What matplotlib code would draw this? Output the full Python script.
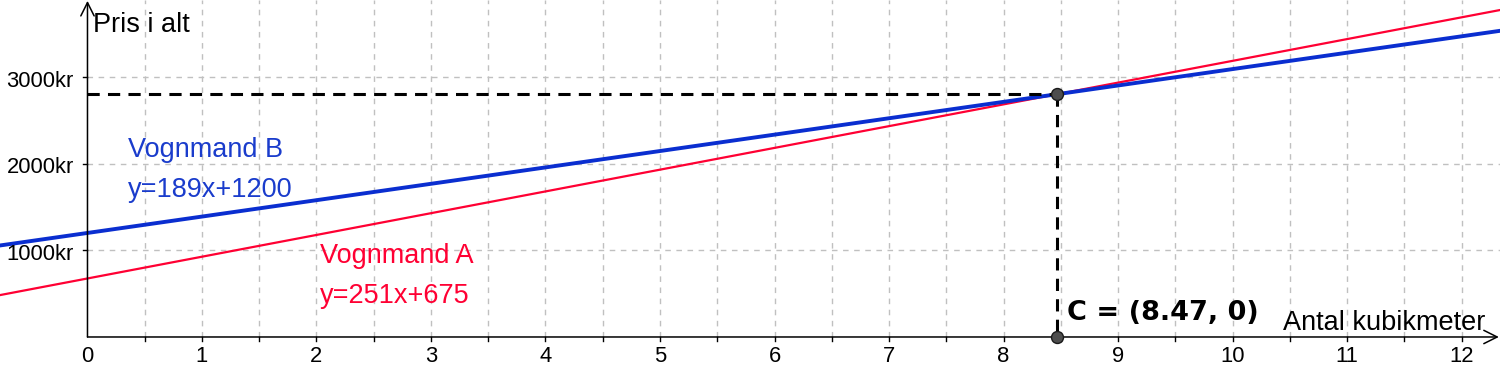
import matplotlib.pyplot as plt
import numpy as np

# data
slope_a, icpt_a = 251, 675
slope_b, icpt_b = 189, 1200
x_cross = 8.47
x_ticks = [0, 1, 2, 3, 4, 5, 6, 7, 8, 9, 10, 11, 12]
y_ticks = [1000, 2000, 3000]
y_tick_labels = ['1000kr', '2000kr', '3000kr']
x_grid = [0.5 * i for i in range(1, 25)]

xmin, xmax = -0.764, 12.336
ymin, ymax = -450, 3887

plt.rcParams['font.family'] = ['Liberation Sans', 'DejaVu Sans']
fig = plt.figure(figsize=(15, 3.76), dpi=100)
ax = fig.add_axes([0, 0, 1, 1])
ax.set_xlim(xmin, xmax)
ax.set_ylim(ymin, ymax)
ax.axis('off')

grid_col = '#c0c0c0'
ax.vlines(x_grid, 0, ymax, colors=grid_col, linestyles=(0, (4, 4)), lw=1)
ax.hlines(y_ticks, 0, xmax, colors=grid_col, linestyles=(0, (4, 4)), lw=1)

# axes with arrows
ax.annotate('', xy=(xmax - 0.01, 0), xytext=(0, 0),
            arrowprops=dict(arrowstyle='->', lw=1.1, color='black', mutation_scale=24, shrinkA=0, shrinkB=0))
ax.annotate('', xy=(0, ymax - 10), xytext=(0, 0),
            arrowprops=dict(arrowstyle='->', lw=1.1, color='black', mutation_scale=24, shrinkA=0, shrinkB=0))

# ticks
for xt in x_grid:
    ax.plot([xt, xt], [0, -50], color='black', lw=1)
for xt in x_ticks:
    ax.text(xt, -220, str(xt), ha='center', va='center', fontsize=15.8)
for yt, lab in zip(y_ticks, y_tick_labels):
    ax.plot([0, -0.04], [yt, yt], color='black', lw=1)
    ax.text(-0.12, yt - 50, lab, ha='right', va='center', fontsize=15.8)

ax.text(0.05, 3518, 'Pris i alt', fontsize=19.5, va='baseline')
ax.text(10.44, 81, 'Antal kubikmeter', fontsize=19.5, va='baseline')

xs = np.array([xmin, xmax])
ax.plot(xs, slope_a * xs + icpt_a, color='#ff0033', lw=1.6)
ax.plot(xs, slope_b * xs + icpt_b, color='#0a2ed0', lw=2.8)

y_cross = slope_b * x_cross + icpt_b
ax.plot([0, x_cross], [y_cross, y_cross], color='black', lw=2.2, linestyle=(0, (4, 2.7)))
ax.plot([x_cross, x_cross], [y_cross, 0], color='black', lw=2.2, linestyle=(0, (4, 2.7)))
ax.plot([x_cross, x_cross], [y_cross, 0], 'o', ms=8.6, mfc='#4d4d4d', mec='#1a1a1a', mew=1, zorder=5)

ax.text(0.354, 2076, 'Vognmand B', color='#1a3ccc', fontsize=19.5, va='baseline')
ax.text(0.354, 1615, 'y=189x+1200', color='#1a3ccc', fontsize=19.5, va='baseline')
ax.text(2.03, 853, 'Vognmand A', color='#ff0033', fontsize=19.5, va='baseline')
ax.text(2.03, 392, 'y=251x+675', color='#ff0033', fontsize=19.5, va='baseline')
ax.text(8.555, 196, 'C = (8.47, 0)', fontsize=19.5, fontweight='bold',
        family='DejaVu Sans', va='baseline')

fig.savefig('out.png', dpi=100)
